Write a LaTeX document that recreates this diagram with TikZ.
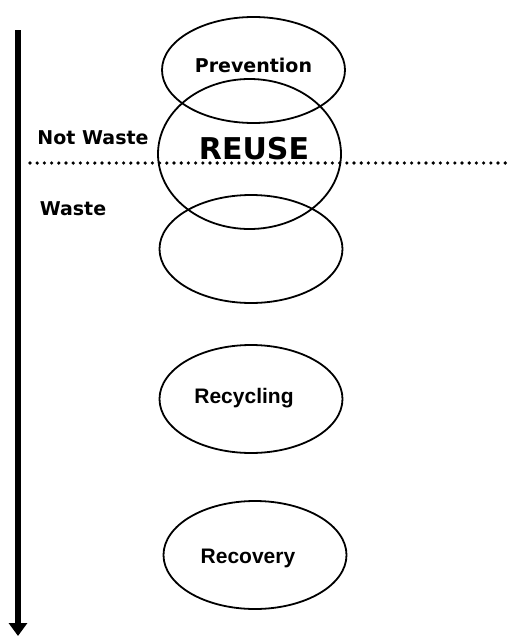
\documentclass[tikz,border=0pt]{standalone}
\usepackage{fontspec}
\setmainfont{DejaVu Sans}
\newfontfamily\arialfont{Liberation Sans}
\usetikzlibrary{%
        arrows.meta,%
        shapes.geometric%
    }
\tikzset{%
  stage/.style={ellipse,draw,line width=1.8pt,inner sep=0pt,
    minimum width=183pt,minimum height=106pt},
  tahoma/.style={anchor=base,font=\bfseries\fontsize{19pt}{23pt}\selectfont},
  arial/.style={anchor=base,font=\arialfont\bfseries\fontsize{21pt}{25pt}\selectfont},
  divider/.style={line width=3.6pt,line cap=round,dash pattern=on 0pt off 7.2pt}
}
\begin{document}
\begin{tikzpicture}[x=1pt,y=-1pt]
      \useasboundingbox (0,0) rectangle (512,637);
      % hierarchy arrow
      \coordinate (top) at (18,30);
      \coordinate (bot) at (18,636);
      \draw[line width=5.5pt,-{Triangle[width=18pt,length=13pt]}] (top) -- (bot);
      % waste / not waste border
      \coordinate (dl) at (30,163);
      \coordinate (dr) at (511,163);
      \draw[divider] (dl) -- (dr);
      % stages
      \node[stage] (prevention) at (253.5,70) {};
      \node[stage,minimum height=150pt] (reuse) at (249.5,154) {};
      \node[stage,minimum height=108pt] (blank) at (251,249) {};
      \node[stage,minimum height=108pt] (recycling) at (251,399) {};
      \node[stage,minimum height=108pt] (recovery) at (255,555) {};
      %labels
      \node[tahoma] (preventiontxt) at (253.5,72) {Prevention};
      \node[tahoma,font=\bfseries\fontsize{30pt}{35pt}\selectfont] (reusetxt)
        at (254,159) {REUSE};
      \node[tahoma] (notwaste) at (93,144) {Not Waste};
      \node[tahoma] (waste) at (73,215) {Waste};
      \node[arial] (recyclingtxt) at (244,403) {Recycling};
      \node[arial] (recoverytxt) at (248,563) {Recovery};
\end{tikzpicture}
\end{document}
